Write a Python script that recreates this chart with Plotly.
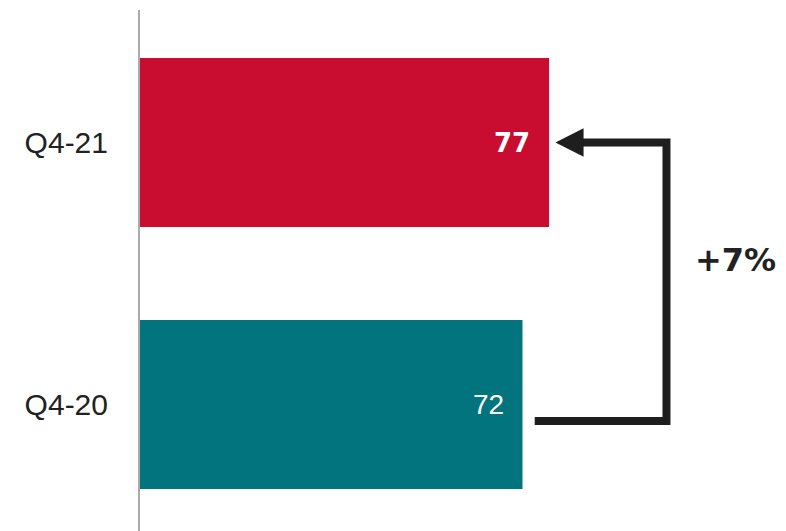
import plotly.graph_objects as go

# Quarterly scores
periods = ["Q4-20", "Q4-21"]
scores = [72, 77]
bar_colors = ["#02747D", "#C80D31"]

change_pct = round((scores[1] - scores[0]) / scores[0] * 100)

fig = go.Figure()
fig.add_trace(go.Bar(
    x=scores,
    y=periods,
    orientation="h",
    width=0.645,
    marker=dict(color=bar_colors, line=dict(width=0)),
    hoverinfo="skip",
))

# value labels inside the bar ends
label_fonts = [
    dict(family="Liberation Sans, Arial, sans-serif", size=28, color="white"),
    dict(family="DejaVu Sans, Verdana, sans-serif", size=26, color="white", weight="bold"),
]
for p, v, f in zip(periods, scores, label_fonts):
    fig.add_annotation(
        x=v, y=p, text=str(v), showarrow=False,
        xanchor="right", yanchor="middle", xshift=-17,
        font=f,
    )

# elbow connector from the lower bar to the upper bar
arrow_color = "#1E1E1E"
x_start = scores[0] + 2.3
x_turn = scores[1] + 22.1
x_tip = scores[1] + 1.2
head_len = 5.3
y_low = 0 - 0.063
y_high = 1 + 0.0
fig.add_shape(
    type="path",
    path=f"M {x_start} {y_low} L {x_turn} {y_low} L {x_turn} {y_high} L {x_tip + head_len - 0.5} {y_high}",
    line=dict(color=arrow_color, width=8),
    layer="above",
)
fig.add_shape(
    type="path",
    path=f"M {x_tip} {y_high} L {x_tip + head_len} {y_high + 0.054} L {x_tip + head_len} {y_high - 0.054} Z",
    fillcolor=arrow_color,
    line=dict(color=arrow_color, width=0),
    layer="above",
)

fig.add_annotation(
    x=x_turn + 13.0, y=0.55, text=f"+{change_pct}%", showarrow=False,
    xanchor="center", yanchor="middle",
    font=dict(family="DejaVu Sans, Verdana, sans-serif", size=32, color="#222222", weight="bold"),
)

fig.update_layout(
    width=786, height=531,
    margin=dict(l=140, r=0, t=10, b=0),
    paper_bgcolor="white",
    plot_bgcolor="white",
    showlegend=False,
    xaxis=dict(
        range=[0, 121.6],
        visible=False,
        fixedrange=True,
    ),
    yaxis=dict(
        categoryorder="array",
        categoryarray=periods,
        range=[-0.4828, 1.5057],
        showline=True,
        linecolor="#AAAAAA",
        linewidth=2,
        showgrid=False,
        zeroline=False,
        ticks="",
        ticklabelstandoff=24,
        tickfont=dict(family="Liberation Sans, Arial, sans-serif", size=30, color="#222222"),
        fixedrange=True,
    ),
)

fig.write_html("out.html")
